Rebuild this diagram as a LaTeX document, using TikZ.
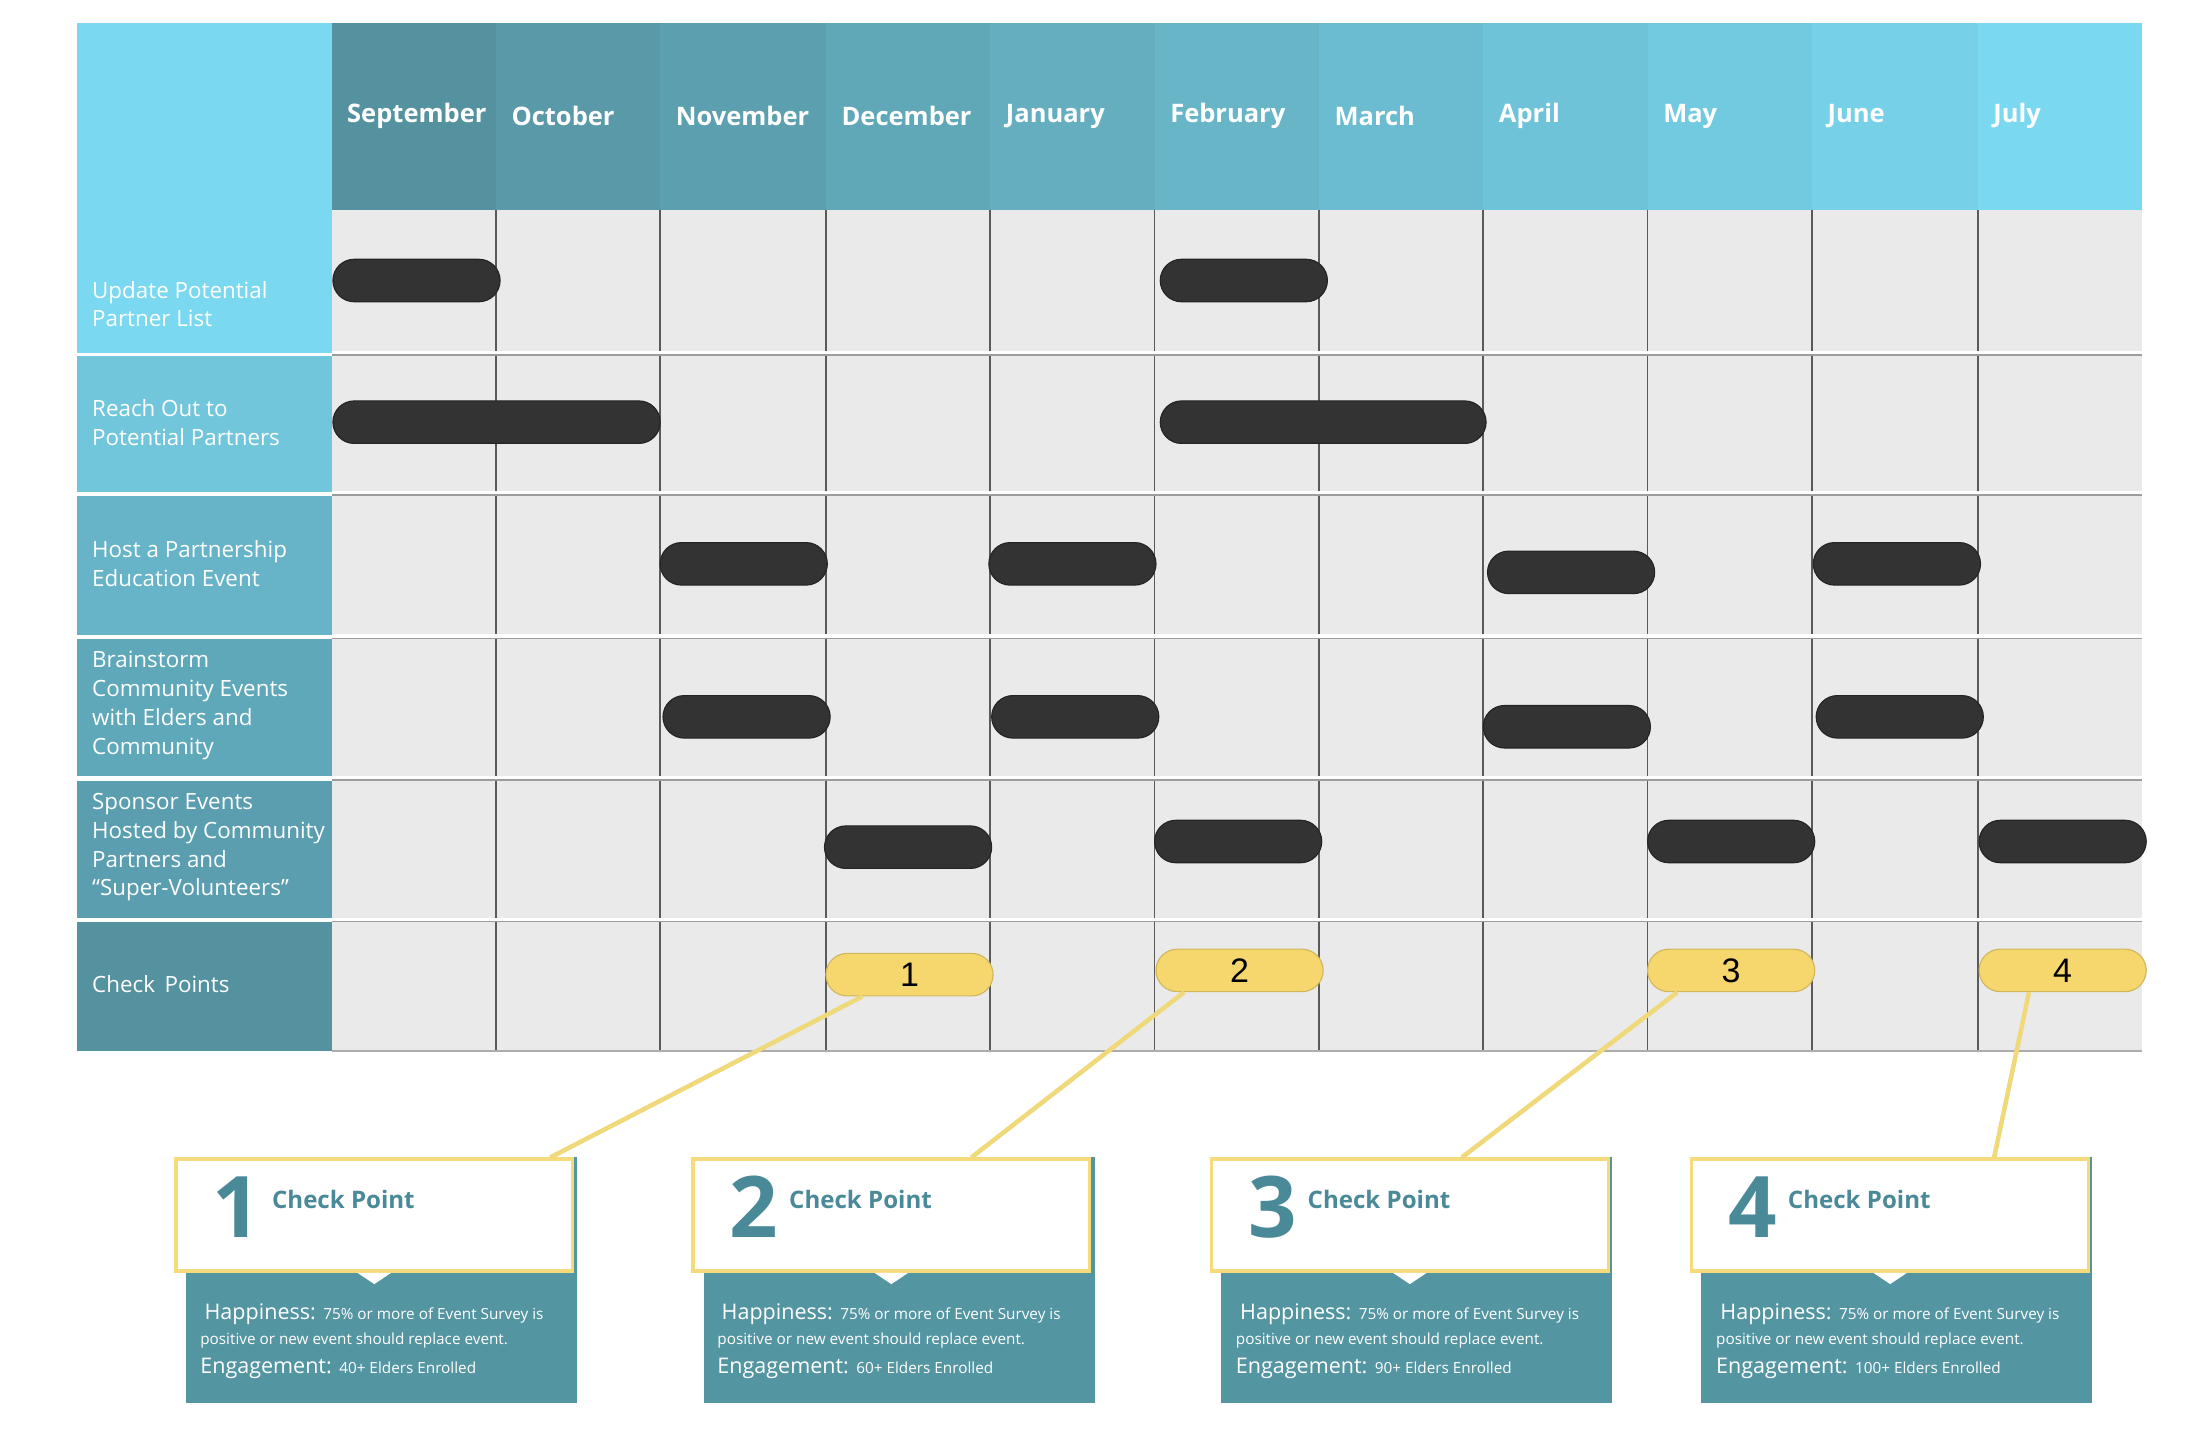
\documentclass[tikz,border=0pt]{standalone}
\usepackage{fontspec}
\setmainfont{Open Sans}
\newfontfamily\arialf{Liberation Sans}
\usetikzlibrary{calc}
\definecolor{gridbg}{HTML}{EAEAEA}
\definecolor{gridln}{HTML}{5A5A5A}
\definecolor{barc}{HTML}{333333}
\definecolor{pill}{HTML}{F5D76E}
\definecolor{pillln}{HTML}{EFD97A}
\definecolor{teal}{HTML}{5495A2}
\definecolor{tealtx}{HTML}{4A8A98}
\definecolor{hA}{HTML}{5592A0}
\definecolor{hB}{HTML}{7AD8F0}
\definecolor{rA}{HTML}{7AD8F0}
\definecolor{rB}{HTML}{72C6DC}
\definecolor{rC}{HTML}{67B4C8}
\definecolor{rD}{HTML}{5FA8BA}
\definecolor{rE}{HTML}{5A9EB0}
\definecolor{rF}{HTML}{5592A0}
\tikzset{
 bar/.style={fill=barc,draw=barc!70!black,rounded corners=7.5pt,inner sep=0pt,minimum height=15pt},
 cpill/.style={fill=pill,draw=pill!85!black,rounded corners=7.5pt,inner sep=0pt,minimum height=15pt,font=\fontsize{12}{12}\selectfont\arialf},
 rowlab/.style={anchor=west,text=white,align=left,font=\fontsize{7.9}{10.2}\selectfont\addfontfeatures{Weight=Light}},
 month/.style={anchor=west,text=white,font=\fontsize{9}{9}\selectfont\bfseries},
 cline/.style={draw=pillln,line width=1.6pt},
 whitebox/.style={fill=white,draw=pill!90!white,line width=1.2pt},
}
\begin{document}
\begin{tikzpicture}[x=0.5pt,y=-0.5pt]
\useasboundingbox (0,0) rectangle (1560,1019);
\fill[white] (0,0) rectangle (1560,1019);
\fill[gridbg] (234,148) rectangle (1512,742);
\def\xs{{234,350,466,583,699,815,931,1047,1163,1279,1396,1512}}
\foreach \m [count=\i from 0] in {September,October,November,December,January,February,March,April,May,June,July}{
  \pgfmathsetmacro\xa{\xs[\i]}
  \pgfmathsetmacro\xb{\xs[\i+1]}
  \pgfmathsetmacro\pc{100-\i*10}
  \fill[hA!\pc!hB] (\xa,16) rectangle (\xb,148);
  \node[month] (m\i) at (\xa+4,82) {\m};
}
\fill[rA] (54,16) rectangle (234,249);
\fill[rB] (54,251) rectangle (234,347);
\fill[rC] (54,350) rectangle (234,448);
\fill[rD] (54,451) rectangle (234,548);
\fill[rE] (54,551) rectangle (234,648);
\fill[rF] (54,651) rectangle (234,742);
\node[rowlab,anchor=south west] (l1) at (58,238) {Update Potential\\Partner List};
\node[rowlab] (l2) at (58,298) {Reach Out to\\Potential Partners};
\node[rowlab] (l3) at (58,398) {Host a Partnership\\Education Event};
\node[rowlab] (l4) at (58,498) {Brainstorm\\Community Events\\with Elders and\\Community};
\node[rowlab] (l5) at (58,598) {Sponsor Events\\Hosted by Community\\Partners and\\“Super-Volunteers”};
\node[rowlab] (l6) at (58,695) {Check\, Points};
\foreach \i in {1,...,10}{
  \pgfmathsetmacro\xa{\xs[\i]}
  \draw[gridln,line width=0.6pt] (\xa,148) -- (\xa,742);
}
\foreach \y in {249,348,449,549,649}{
  \draw[white,line width=1.2pt] (234,\y) -- (1512,\y);
  \draw[gridln!60,line width=0.5pt] (234,\y+1.5) -- (1512,\y+1.5);
}
\draw[gridln!50,line width=0.5pt] (234,742) -- (1512,742);
\node[bar,minimum width=59pt] (b1) at (294,198) {};
\node[bar,minimum width=59pt] (b2) at (878,198) {};
\node[bar,minimum width=115.5pt] (b3) at (350.5,298) {};
\node[bar,minimum width=115pt] (b4) at (934,298) {};
\node[bar,minimum width=59pt] (b5) at (525,398) {};
\node[bar,minimum width=59pt] (b6) at (757,398) {};
\node[bar,minimum width=59pt] (b7) at (1109,404) {};
\node[bar,minimum width=59pt] (b8) at (1339,398) {};
\node[bar,minimum width=59pt] (b9) at (527,506) {};
\node[bar,minimum width=59pt] (b10) at (759,506) {};
\node[bar,minimum width=59pt] (b11) at (1106,513) {};
\node[bar,minimum width=59pt] (b12) at (1341,506) {};
\node[bar,minimum width=59pt] (b13) at (641,598) {};
\node[bar,minimum width=59pt] (b14) at (874,594) {};
\node[bar,minimum width=59pt] (b15) at (1222,594) {};
\node[bar,minimum width=59pt] (b16) at (1456,594) {};
\node[cpill,minimum width=59pt] (cp1) at (642,688) {1};
\node[cpill,minimum width=59pt] (cp2) at (875,685) {2};
\node[cpill,minimum width=59pt] (cp3) at (1222,685) {3};
\node[cpill,minimum width=59pt] (cp4) at (1456,685) {4};
\foreach \k/\xw/\xt/\num/\eng in {1/123/131/1/40+,2/488/497/2/60+,3/854/862/3/90+,4/1193/1201/4/100+}{
  \fill[teal] (\xt,817) rectangle (\xt+276,990);
  \node[whitebox,anchor=north west,minimum width=140pt,minimum height=39.5pt,inner sep=0pt] (box\k) at (\xw,817) {};
  \fill[white] ($(box\k.south)+(-12,0)$) -- ($(box\k.south)+(12,0)$) -- ($(box\k.south)+(0,8)$) -- cycle;
  \node[anchor=west,text=tealtx,font=\fontsize{30}{30}\selectfont\bfseries] (n\k) at (\xw+20,852) {\num};
  \node[anchor=west,text=tealtx,font=\fontsize{8.5}{8.5}\selectfont\bfseries] (t\k) at (\xw+62,847) {Check Point};
  \node[anchor=west,text=white,inner sep=0pt,font=\fontsize{5.4}{5.4}\selectfont] (h\k) at (\xw+21,928) {\fontsize{7.6}{7.6}\selectfont Happiness: \fontsize{5.4}{5.4}\selectfont 75\% or more of Event Survey is};
  \node[anchor=west,text=white,inner sep=0pt,font=\fontsize{5.4}{5.4}\selectfont] (p\k) at (\xw+18,946) {positive or new event should replace event.};
  \node[anchor=west,text=white,inner sep=0pt,font=\fontsize{5.4}{5.4}\selectfont] (e\k) at (\xw+18,966) {\fontsize{7.6}{7.6}\selectfont Engagement: \fontsize{5.4}{5.4}\selectfont \eng{} Elders Enrolled};
}
\draw[cline] ($(cp1.south west)!0.22!(cp1.south east)$) -- ($(box1.north west)!0.94!(box1.north east)$);
\draw[cline] ($(cp2.south west)!0.17!(cp2.south east)$) -- ($(box2.north west)!0.70!(box2.north east)$);
\draw[cline] ($(cp3.south west)!0.18!(cp3.south east)$) -- ($(box3.north west)!0.63!(box3.north east)$);
\draw[cline] ($(cp4.south west)!0.30!(cp4.south east)$) -- ($(box4.north west)!0.76!(box4.north east)$);
\end{tikzpicture}
\end{document}
